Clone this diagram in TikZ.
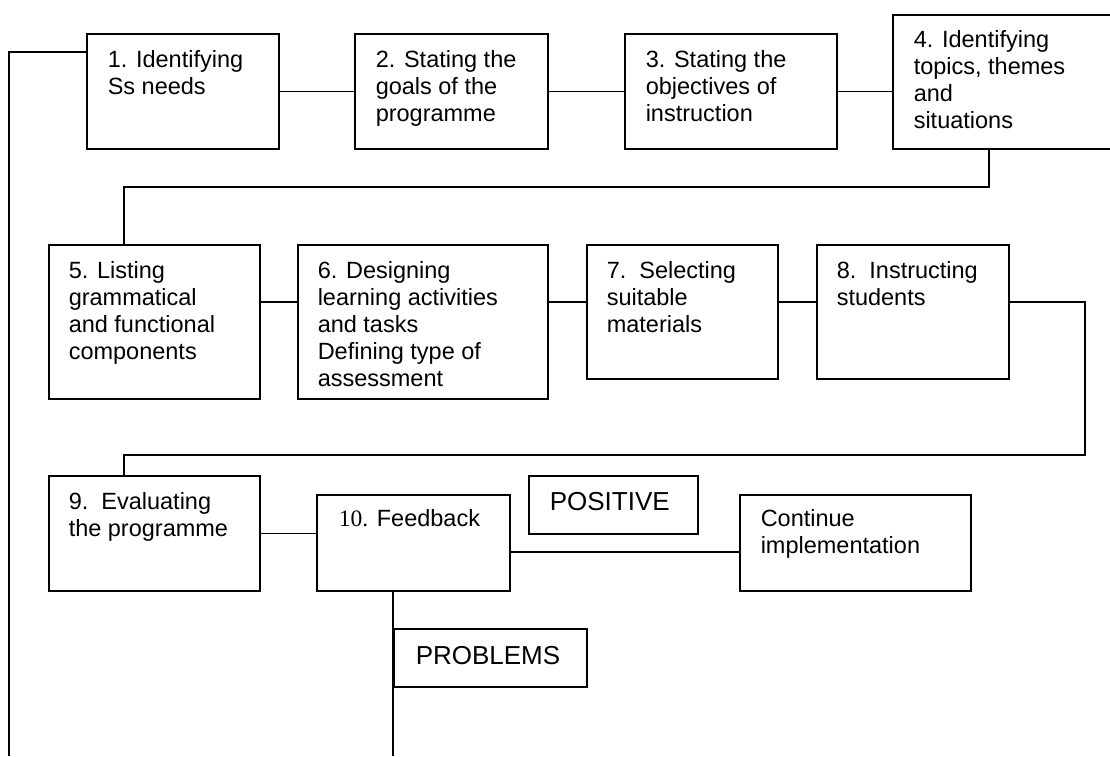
\documentclass[tikz,border=0pt]{standalone}
\usepackage{fontspec}
\setmainfont{Liberation Sans}
\newfontfamily\tnr{Liberation Serif}
\newcommand{\bxt}[4]{\begin{minipage}[t][#2pt][t]{#1pt}\setlength{\baselineskip}{27pt}\rule{0pt}{#3pt}#4\end{minipage}}
\tikzset{
  boxn/.style={draw, line width=1.5pt, rectangle, inner xsep=21pt, inner ysep=0pt, anchor=north west, font=\fontsize{23.5}{27}\selectfont},
  bigt/.style={font=\fontsize{26}{30}\selectfont},
  conn/.style={draw, line width=1.5pt}
}
\begin{document}
\begin{tikzpicture}[x=1pt,y=-1pt]
\useasboundingbox (0,0) rectangle (1110,756);
\node[boxn] (b1) at (86,33) {\bxt{150}{115}{34}{1. Identifying\\Ss needs}};
\node[boxn] (b2) at (354,33) {\bxt{151}{115}{34}{2. Stating the\\goals of the\\programme}};
\node[boxn] (b3) at (624,33) {\bxt{170}{115}{34}{3. Stating the\\objectives of\\instruction}};
\node[boxn] (b4) at (892,14) {\bxt{180}{134}{33}{4. Identifying\\topics, themes\\and\\situations}};
\node[boxn,inner xsep=20pt] (b5) at (48,244) {\bxt{171}{154}{34}{5. Listing\\grammatical\\and functional\\components}};
\node[boxn,inner xsep=20pt] (b6) at (297,244) {\bxt{210}{154}{34}{6. Designing\\learning activities\\and tasks\\Defining type of\\assessment}};
\node[boxn,inner xsep=20pt] (b7) at (586,244) {\bxt{151}{134}{34}{7.\ \ Selecting\\suitable\\materials}};
\node[boxn,inner xsep=20pt] (b8) at (816,244) {\bxt{152}{134}{34}{8.\ \ Instructing\\students}};
\node[boxn,inner xsep=20pt] (b9) at (48,475) {\bxt{171}{115}{34}{9.\ \ Evaluating\\the programme}};
\node[boxn,inner xsep=22pt] (b10) at (316,494) {\bxt{149}{96}{32}{{\tnr 10.} Feedback}};
\node[boxn,bigt] (pos) at (528,475) {\bxt{127}{58}{35}{POSITIVE}};
\node[boxn] (cont) at (739,494) {\bxt{189}{96}{32}{Continue\\implementation}};
\node[boxn,bigt,inner xsep=22pt] (prob) at (393,628) {\bxt{149}{58}{36}{PROBLEMS}};
\coordinate (lb) at (9,756);
\coordinate (r1) at (989,187);
\coordinate (r2) at (124,187);
\coordinate (s1) at (1085,455);
\coordinate (s2) at (124,455);
\coordinate (pb) at (393,756);
\draw[conn] ([yshift=-19pt]b1.north west) -| (lb);
\draw[conn] (b1.east) -- (b2.west);
\draw[conn] (b2.east) -- (b3.west);
\draw[conn] (b3.east) -- (b3.east -| b4.west);
\draw[conn] (r1 |- b4.south) -- (r1) -- (r2) -- (r2 |- b5.north);
\draw[conn] ([yshift=-58pt]b5.north east) -- ([yshift=-58pt]b5.north east -| b6.west);
\draw[conn] ([yshift=-58pt]b6.north east) -- ([yshift=-58pt]b6.north east -| b7.west);
\draw[conn] ([yshift=-58pt]b7.north east) -- ([yshift=-58pt]b7.north east -| b8.west);
\draw[conn] ([yshift=-58pt]b8.north east) -| (s1) -- (s2) -- (s2 |- b9.north);
\draw[conn] (b9.east) -- (b9.east -| b10.west);
\draw[conn] ([yshift=-58pt]b10.north east) -- ([yshift=-58pt]b10.north east -| cont.west);
\draw[conn] (b10.south -| pb) -- (pb);
\end{tikzpicture}
\end{document}
